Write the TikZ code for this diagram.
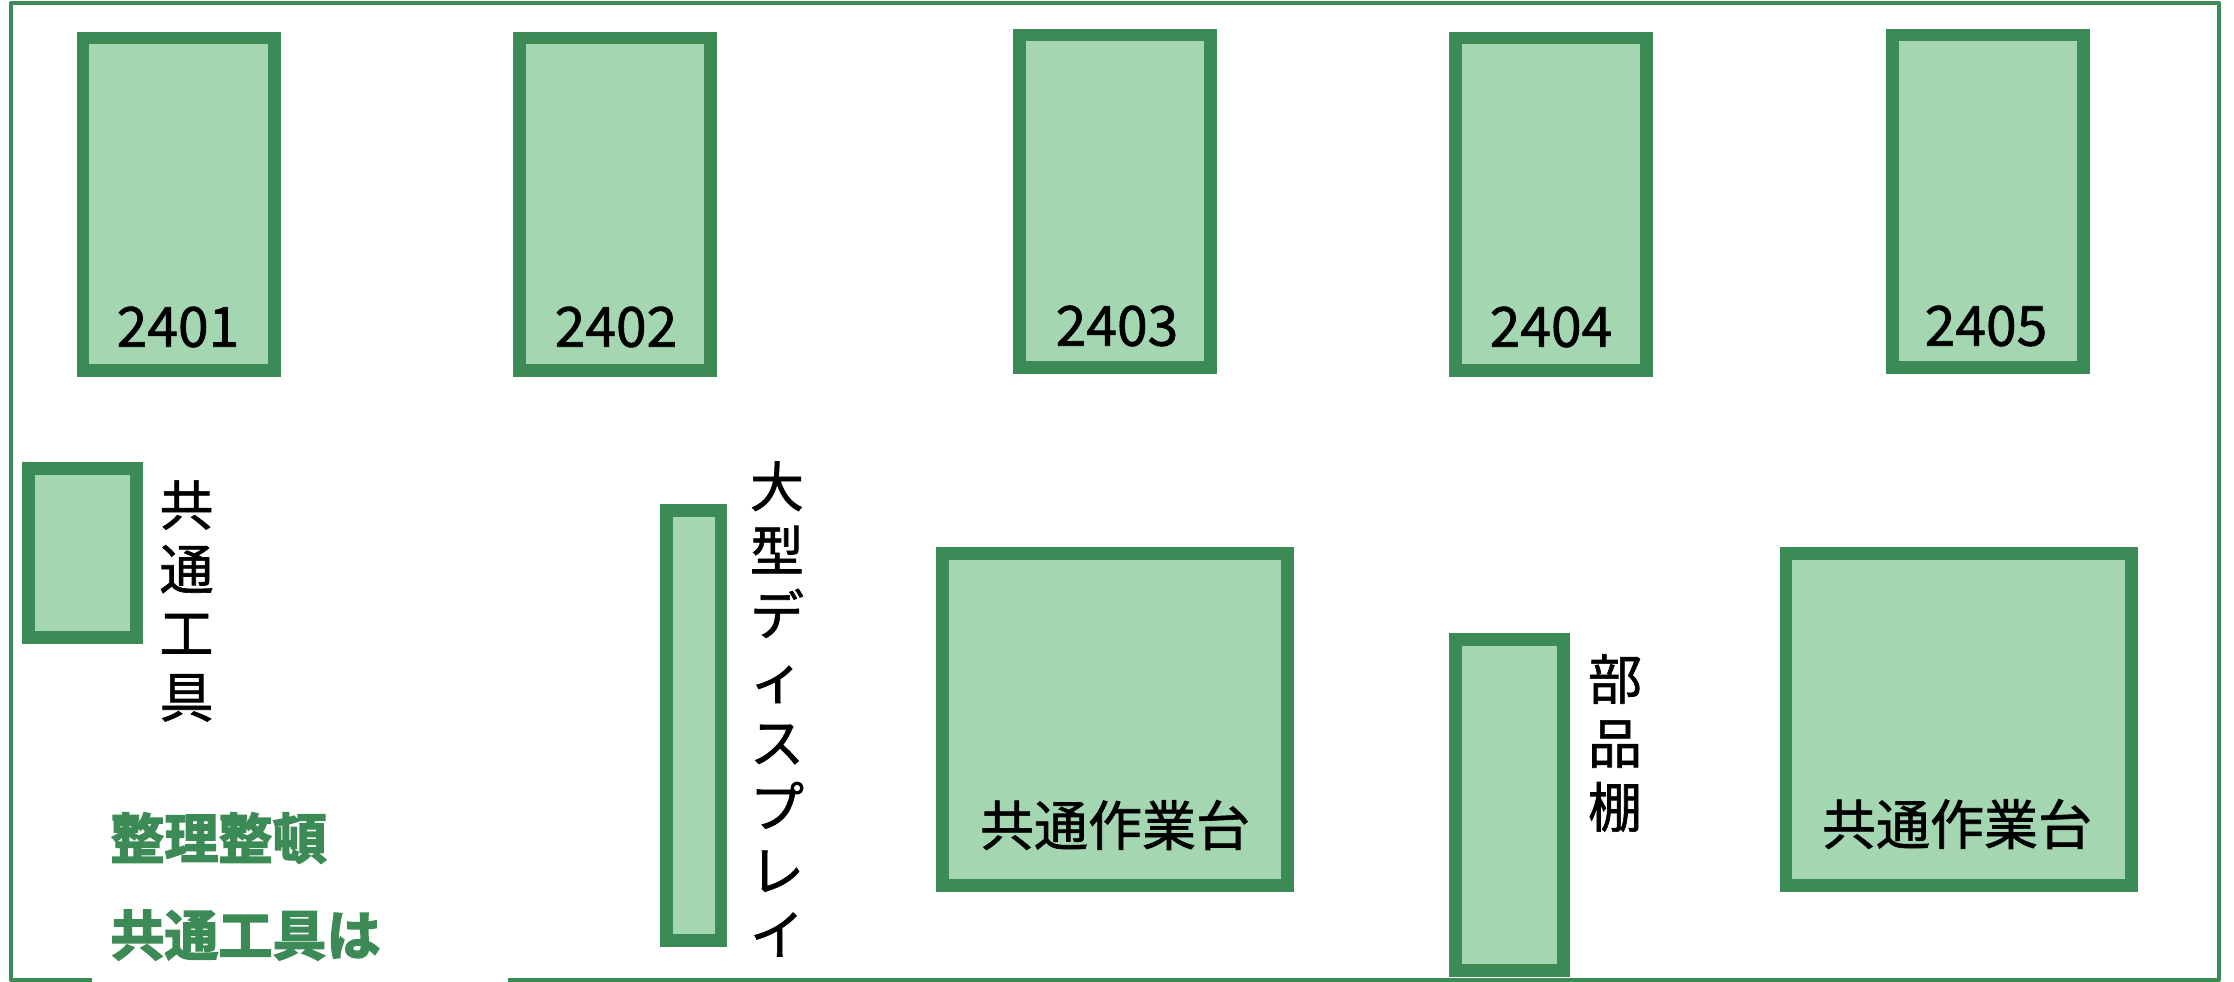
\documentclass[tikz,border=0pt]{standalone}
\usepackage{fontspec}
\setmainfont{Noto Sans CJK JP}
\newfontfamily\labfont[FakeBold=1.2]{Noto Sans CJK JP}
\newfontfamily\notefont[FakeBold=3]{Noto Sans CJK JP Bold}
\definecolor{dk}{HTML}{3C8A55}
\definecolor{lt}{HTML}{A4D6B1}
\tikzset{
  unitbox/.style 2 args={draw=dk,fill=lt,line width=6.3pt,inner sep=0pt,outer sep=0pt,
    minimum width={(#1-12.6)*0.5pt},minimum height={(#2-12.6)*0.5pt}},
  lab/.style={inner sep=0pt,outer sep=0pt,text=black,font=\labfont\fontsize{27pt}{32pt}\selectfont,align=center},
  num/.style={lab,font=\labfont\fontsize{27.6pt}{32pt}\selectfont},
  note/.style={inner sep=0pt,outer sep=0pt,anchor=west,text=dk,font=\notefont\fontsize{27pt}{32pt}\selectfont},
}
\begin{document}
\begin{tikzpicture}[x=0.5pt,y=-0.5pt]
\useasboundingbox (0,0) rectangle (2234,981);
\node[draw=dk,line width=2pt,line join=round,inner sep=0pt,minimum width=1104pt,minimum height=488.5pt] (frame) at (1115,491.5) {};
\node[fill=white,inner sep=0pt,minimum width=208pt,minimum height=6pt] (gap) at (300,978) {};
\node[unitbox={204}{345}] (b1) at (178.5,204) {};
\node[unitbox={204}{345}] (b2) at (615,204) {};
\node[unitbox={204}{345}] (b3) at (1115,201) {};
\node[unitbox={204}{345}] (b4) at (1551,204) {};
\node[unitbox={204}{345}] (b5) at (1988,201) {};
\node[unitbox={121}{182}] (tool) at (82.5,553) {};
\node[unitbox={67.5}{443}] (disp) at (693.7,725.5) {};
\node[unitbox={358}{345}] (t1) at (1115,719.5) {};
\node[unitbox={358}{345}] (t2) at (1958.5,719.5) {};
\node[unitbox={121}{344}] (shelf) at (1509.5,805) {};
\node[num] (l1) at (178,327) {2401};
\node[num] (l2) at (616,327) {2402};
\node[num] (l3) at (1117,326) {2403};
\node[num] (l4) at (1551,327) {2404};
\node[num] (l5) at (1986,326) {2405};
\node[lab] (lt1) at (1115,825) {共通作業台};
\node[lab] (lt2) at (1957,824) {共通作業台};
\node[lab] (ltool) at (186.5,601) {共\\通\\工\\具};
\node[lab] (ldisp) at (777,709) {大\\型\\デ\\ィ\\ス\\プ\\レ\\イ};
\node[lab] (lshelf) at (1615,743) {部\\品\\棚};
\node[note] (n1) at (110.5,838) {整理整頓};
\node[note] (n2) at (110.5,935) {共通工具は};
\end{tikzpicture}
\end{document}
